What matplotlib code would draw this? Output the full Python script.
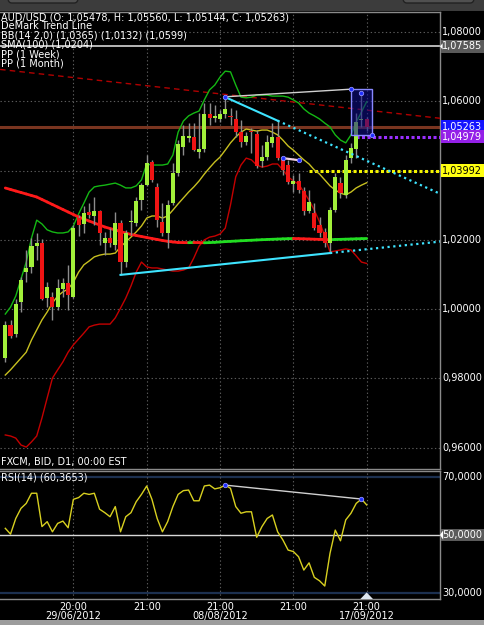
import matplotlib
matplotlib.use('Agg')
import matplotlib.pyplot as plt
from matplotlib.patches import Rectangle, FancyBboxPatch, Polygon
from matplotlib.collections import LineCollection
import numpy as np

# ---------------- data (AUD/USD daily, FXCM) ----------------
opens = [0.9859, 0.9954, 0.9928, 1.0021, 1.0107, 1.0122, 1.0182, 1.0191, 1.0032, 1.0035,
         1.0006, 1.0058, 1.0076, 1.0035, 1.0263, 1.0246, 1.0281, 1.0269, 1.0283, 1.0191,
         1.0205, 1.0185, 1.0249, 1.0136, 1.0252, 1.0249, 1.0315, 1.0358, 1.0425, 1.0353,
         1.0252, 1.0220, 1.0307, 1.0393, 1.0468, 1.0494, 1.0497, 1.0454, 1.0462, 1.0563,
         1.0552, 1.0549, 1.0563, 1.0558, 1.0549, 1.0511, 1.0483, 1.0514, 1.0506, 1.0428,
         1.0439, 1.0480, 1.0497, 1.0431, 1.0416, 1.0361, 1.0370, 1.0341, 1.0283, 1.0278,
         1.0243, 1.0223, 1.0191, 1.0286, 1.0364, 1.0330, 1.0436, 1.0462, 1.0546, 1.05478]
highs = [0.9966, 0.9969, 1.0029, 1.0093, 1.0171, 1.0206, 1.0220, 1.0203, 1.0079, 1.0050,
         1.0087, 1.0090, 1.0128, 1.0243, 1.0272, 1.0298, 1.0307, 1.0324, 1.0286, 1.0223,
         1.0234, 1.0280, 1.0257, 1.0229, 1.0286, 1.0324, 1.0364, 1.0445, 1.0431, 1.0364,
         1.0307, 1.0315, 1.0422, 1.0488, 1.0532, 1.0537, 1.0537, 1.0566, 1.0595, 1.0595,
         1.0589, 1.0575, 1.0612, 1.0580, 1.0575, 1.0546, 1.0511, 1.0523, 1.0517, 1.0474,
         1.0503, 1.0537, 1.0544, 1.0439, 1.0431, 1.0387, 1.0393, 1.0353, 1.0344, 1.0307,
         1.0266, 1.0234, 1.0295, 1.0393, 1.0381, 1.0445, 1.0480, 1.0566, 1.0624, 1.05560]
lows = [0.9848, 0.9917, 0.9920, 0.9992, 1.0079, 1.0105, 1.0142, 1.0027, 1.0006, 0.9969,
        0.9998, 1.0035, 0.9998, 1.0032, 1.0211, 1.0220, 1.0263, 1.0243, 1.0185, 1.0156,
        1.0180, 1.0171, 1.0099, 1.0122, 1.0214, 1.0240, 1.0286, 1.0356, 1.0367, 1.0237,
        1.0211, 1.0177, 1.0301, 1.0384, 1.0445, 1.0483, 1.0457, 1.0436, 1.0454, 1.0532,
        1.0540, 1.0540, 1.0552, 1.0532, 1.0497, 1.0468, 1.0474, 1.0451, 1.0408, 1.0410,
        1.0431, 1.0468, 1.0431, 1.0387, 1.0361, 1.0338, 1.0335, 1.0272, 1.0278, 1.0229,
        1.0208, 1.0180, 1.0162, 1.0280, 1.0321, 1.0321, 1.0422, 1.0436, 1.0526, 1.05144]
closes = [0.9954, 0.9923, 1.0015, 1.0084, 1.0119, 1.0182, 1.0191, 1.0029, 1.0064, 1.0006,
          1.0061, 1.0076, 1.0041, 1.0234, 1.0243, 1.0278, 1.0272, 1.0283, 1.0220, 1.0205,
          1.0191, 1.0249, 1.0136, 1.0220, 1.0255, 1.0312, 1.0358, 1.0422, 1.0373, 1.0257,
          1.0220, 1.0301, 1.0393, 1.0477, 1.0500, 1.0500, 1.0459, 1.0462, 1.0563, 1.0552,
          1.0558, 1.0563, 1.0578, 1.0555, 1.0511, 1.0483, 1.0500, 1.0511, 1.0413, 1.0439,
          1.0483, 1.0497, 1.0436, 1.0402, 1.0367, 1.0370, 1.0344, 1.0283, 1.0309, 1.0234,
          1.0220, 1.0191, 1.0286, 1.0381, 1.0335, 1.0431, 1.0465, 1.0540, 1.0549, 1.05263]

bb_upper = [0.9986, 1.0006, 1.0038, 1.0087, 1.0136, 1.0205, 1.0257, 1.0246, 1.0229, 1.0223,
            1.0220, 1.0220, 1.0223, 1.0240, 1.0275, 1.0306, 1.0338, 1.0353, 1.0356, 1.0358,
            1.0361, 1.0364, 1.0358, 1.0350, 1.0350, 1.0356, 1.0373, 1.0419, 1.0416, 1.0416,
            1.0416, 1.0419, 1.0445, 1.0511, 1.0543, 1.0558, 1.0566, 1.0572, 1.0604, 1.0633,
            1.0647, 1.0670, 1.0687, 1.0685, 1.0647, 1.0612, 1.0610, 1.0612, 1.0618, 1.0618,
            1.0618, 1.0615, 1.0615, 1.0615, 1.0612, 1.0604, 1.0595, 1.0578, 1.0566, 1.0558,
            1.0549, 1.0537, 1.0526, 1.0503, 1.0488, 1.0480, 1.0503, 1.0540, 1.0569, 1.0599]
bb_middle = [0.9810, 0.9825, 0.9842, 0.9859, 0.9876, 0.9911, 0.9940, 0.9969, 0.9992, 1.0018,
             1.0038, 1.0050, 1.0058, 1.0078, 1.0107, 1.0128, 1.0139, 1.0151, 1.0156, 1.0159,
             1.0159, 1.0162, 1.0180, 1.0194, 1.0208, 1.0223, 1.0240, 1.0263, 1.0269, 1.0269,
             1.0263, 1.0269, 1.0286, 1.0304, 1.0321, 1.0338, 1.0353, 1.0370, 1.0390, 1.0408,
             1.0425, 1.0439, 1.0459, 1.0480, 1.0497, 1.0511, 1.0520, 1.0517, 1.0514, 1.0517,
             1.0517, 1.0511, 1.0503, 1.0488, 1.0471, 1.0459, 1.0445, 1.0431, 1.0419, 1.0402,
             1.0390, 1.0373, 1.0356, 1.0344, 1.0335, 1.0330, 1.0338, 1.0350, 1.0358, 1.0365]
bb_lower = [0.9637, 0.9634, 0.9628, 0.9608, 0.9602, 0.9617, 0.9634, 0.9686, 0.9744, 0.9801,
            0.9825, 0.9848, 0.9876, 0.9897, 0.9914, 0.9931, 0.9949, 0.9954, 0.9957, 0.9957,
            0.9957, 0.9975, 1.0003, 1.0032, 1.0067, 1.0107, 1.0136, 1.0122, 1.0119, 1.0119,
            1.0116, 1.0113, 1.0110, 1.0110, 1.0113, 1.0119, 1.0148, 1.0182, 1.0200, 1.0208,
            1.0211, 1.0217, 1.0234, 1.0301, 1.0382, 1.0416, 1.0436, 1.0431, 1.0416, 1.0410,
            1.0413, 1.0419, 1.0419, 1.0402, 1.0382, 1.0370, 1.0361, 1.0338, 1.0315, 1.0286,
            1.0252, 1.0211, 1.0165, 1.0168, 1.0171, 1.0174, 1.0171, 1.0154, 1.0136, 1.0132]
sma100 = [1.03498, 1.03455, 1.03411, 1.03368, 1.03325, 1.03281, 1.03238, 1.03166, 1.03094, 1.03021,
          1.02949, 1.02877, 1.02805, 1.02733, 1.02661, 1.02603, 1.02545, 1.02488, 1.02430, 1.02372,
          1.02329, 1.02286, 1.02243, 1.02199, 1.02156, 1.02127, 1.02098, 1.02069, 1.02040, 1.02012,
          1.01983, 1.01960, 1.01940, 1.01925, 1.01922, 1.01920, 1.01925, 1.01921, 1.01917, 1.01922,
          1.01930, 1.01940, 1.01950, 1.01958, 1.01966, 1.01975, 1.01983, 1.01990, 1.01998, 1.02005,
          1.02012, 1.02018, 1.02024, 1.02030, 1.02035, 1.02040, 1.02036, 1.02031, 1.02026, 1.02020,
          1.02015, 1.02010, 1.02006, 1.02012, 1.02016, 1.02021, 1.02026, 1.02031, 1.02036, 1.02040]
rsi14 = [52.3, 50.3, 55.7, 59.2, 60.9, 64.4, 64.4, 52.9, 54.6, 51.1,
         54.0, 54.8, 52.5, 62.3, 62.9, 64.4, 64.0, 64.4, 58.9, 57.7,
         56.3, 59.8, 51.1, 56.3, 57.7, 61.5, 64.0, 66.9, 62.3, 55.7,
         51.1, 54.6, 59.8, 64.0, 65.3, 65.5, 61.8, 61.8, 66.9, 67.2,
         65.9, 66.3, 67.2, 66.1, 59.8, 57.5, 58.0, 58.0, 49.2, 52.9,
         55.7, 56.9, 51.1, 48.3, 44.8, 44.3, 42.5, 37.9, 40.4, 35.4,
         34.2, 32.4, 43.7, 51.7, 48.0, 55.2, 57.5, 60.9, 62.4, 60.3653]

# tick labels / levels
x_tick_bars = [13, 27, 41, 55, 69]
x_tick_labels = ["20:00\n29/06/2012", "21:00", "21:00\n08/08/2012", "21:00", "21:00\n17/09/2012"]
price_ticks = [0.96, 0.98, 1.00, 1.02, 1.04, 1.06, 1.08]
rsi_ticks = [30, 50, 70]
level_white = 1.07585
last_close = 1.05263
pp_week = 1.04979
pp_month = 1.03992
pp_week_start = 67
pp_month_start = 58
# trend lines (bar index, price)
red_trend = ([-1.0, 83.0], [1.0692, 1.0551])
upper_demark = ([42, 52], [1.0612, 1.0544])
lower_demark = ([22, 62], [1.0099, 1.0162])
top_line = ([42, 66], [1.0613, 1.0635])
small_line = ([53, 56], [1.0436, 1.0430])
box = (66, 70, 1.0503, 1.0635)   # x0, x1, y0, y1
rsi_line = ([42, 68], [67.2, 62.4])
header = ["AUD/USD (O: 1,05478, H: 1,05560, L: 1,05144, C: 1,05263)",
          "DeMark Trend Line",
          "BB(14 2,0) (1,0365) (1,0132) (1,0599)",
          "SMA(100) (1,0204)",
          "PP (1 Week)",
          "PP (1 Month)"]

# ---------------- figure ----------------
W, H = 484, 625
fig = plt.figure(figsize=(W / 100, H / 100), dpi=100, facecolor='black')
FS = 7.0
TXT = dict(color='white', fontsize=FS, family='DejaVu Sans')

ax = fig.add_axes([0, 1 - 469 / H, 440 / W, (469 - 12) / H])
rx = fig.add_axes([0, 1 - 599 / H, 440 / W, 128 / H])
for a in (ax, rx):
    a.set_facecolor('black')
    a.set_xlim(-1.01, 83.0)
    for s in a.spines.values():
        s.set_color('#8a8a8a')
        s.set_linewidth(1)
    a.spines['left'].set_visible(False)
    a.tick_params(length=0, labelbottom=False, labelleft=False)
    a.set_xticks(x_tick_bars)
    a.grid(axis='x', color='#5c5c5c', linestyle=(0, (1.2, 2.2)), linewidth=0.8)
ax.set_ylim(0.95388, 1.08577)
ax.set_yticks(price_ticks)
ax.grid(axis='y', color='#5c5c5c', linestyle=(0, (1.2, 2.2)), linewidth=0.8)
rx.set_ylim(27.93, 72.07)
rx.set_yticks([])

n = len(closes)
idx = np.arange(n)
o = np.array(opens); h = np.array(highs); l = np.array(lows); c = np.array(closes)

# horizontal level lines
ax.axhline(level_white, color='#e8e8e8', lw=1.1, zorder=2)
ax.axhline(last_close, color='#7a3520', lw=2.2, zorder=2)
ax.plot([pp_week_start, 83], [pp_week, pp_week], color='#9a30ff', lw=2.2,
        linestyle=(0, (1, 0.8)), zorder=3, solid_capstyle='butt')
ax.plot([pp_month_start, 83], [pp_month, pp_month], color='#f4f400', lw=2.2,
        linestyle=(0, (1, 0.8)), zorder=3)

# red dashed trend line
ax.plot(red_trend[0], red_trend[1], color='#b00000', lw=1, linestyle=(0, (4, 3)), zorder=3)

# Bollinger bands
ax.plot(idx, bb_upper, color='#14b814', lw=1, zorder=3)
ax.plot(idx, bb_middle, color='#c8c020', lw=1, zorder=3)
ax.plot(idx, bb_lower, color='#c40000', lw=1, zorder=3)

# SMA 100 coloured by direction
sma = np.array(sma100)
segs = [[(i, sma[i]), (i + 1, sma[i + 1])] for i in range(n - 1)]
cols = ['#22dd22' if sma[i + 1] >= sma[i] else '#ff1a1a' for i in range(n - 1)]
ax.add_collection(LineCollection(segs, colors=cols, linewidths=2, zorder=3, capstyle='round'))

# candles
ax.vlines(idx, l, h, color='#8c8c8c', lw=1, zorder=4)
up = c >= o
body = np.maximum(np.abs(c - o), 0.00018)
ax.bar(idx[up], body[up], bottom=o[up], width=0.78, color='#a2f03a', linewidth=0, zorder=5)
ax.bar(idx[~up], body[~up], bottom=c[~up], width=0.78, color='#f01414', linewidth=0, zorder=5)

# DeMark trend lines
cy = '#3ee4ff'
def extend(pts, x_end):
    (x0, x1), (y0, y1) = pts
    s = (y1 - y0) / (x1 - x0)
    return [x1, x_end], [y1, y1 + s * (x_end - x1)]
ax.plot(upper_demark[0], upper_demark[1], color=cy, lw=1.5, zorder=6)
ex, ey = extend(upper_demark, 83)
ax.plot(ex, ey, color=cy, lw=1.6, linestyle=(0, (1, 1.6)), zorder=6)
ax.plot(lower_demark[0], lower_demark[1], color=cy, lw=1.5, zorder=6)
ex, ey = extend(lower_demark, 83)
ax.plot(ex, ey, color=cy, lw=1.6, linestyle=(0, (1, 1.6)), zorder=6)

ax.plot(top_line[0], top_line[1], color='#d0d0d0', lw=1, zorder=6)
ax.plot(small_line[0], small_line[1], color='#f0d0e0', lw=1.6, zorder=6)

# blue rectangle
bx0, bx1, by0, by1 = box
ax.add_patch(Rectangle((bx0, by0), bx1 - bx0, by1 - by0, facecolor='#101090', alpha=0.55,
                       edgecolor='none', zorder=7))
ax.add_patch(Rectangle((bx0, by0), bx1 - bx0, by1 - by0, facecolor='none',
                       edgecolor='#8888ff', lw=1, zorder=7))
dots_x = [upper_demark[0][0], bx0, 68, bx1, small_line[0][0], small_line[0][1]]
dots_y = [upper_demark[1][0], by1, highs[68], by0, small_line[1][0], small_line[1][1]]
ax.scatter(dots_x, dots_y, s=10, color='#2030ff', edgecolors='#9090ff', linewidths=0.6, zorder=8)

# ---------------- RSI panel ----------------
rx.axhline(70, color='#1c3050', lw=1.6, zorder=1)
rx.axhline(30, color='#1c3050', lw=1.6, zorder=1)
rx.axhline(50, color='#d8d8d8', lw=1, zorder=2)
rx.plot(idx, rsi14, color='#d8d020', lw=1, zorder=3)
rx.plot(rsi_line[0], rsi_line[1], color='#d0d0d0', lw=1, zorder=4)
rx.scatter(rsi_line[0], rsi_line[1], s=10, color='#2030ff', edgecolors='#9090ff', linewidths=0.6, zorder=5)
rx.add_patch(Polygon([[n - 1 - 1.2, 27.93], [n - 1 + 1.2, 27.93], [n - 1, 30.2]], closed=True,
                     facecolor='#dde6f0', edgecolor='none', zorder=6, clip_on=False))

# ---------------- texts ----------------
ytr = ax.get_yaxis_transform()
for p in price_ticks:
    ax.text(1.005, p, f"{p:.5f}".replace('.', ','), transform=ytr, va='center', ha='left', **TXT)

def tag(axis, y, s, fc, tc='white'):
    axis.text(1.005, y, s, transform=axis.get_yaxis_transform(), va='center', ha='left',
              color=tc, fontsize=FS, zorder=10,
              bbox=dict(boxstyle='square,pad=0.15', fc=fc, ec='none'))

tag(ax, level_white, "1,07585", '#5a5a5a')
tag(ax, last_close, "1,05263", '#1414ff')
tag(ax, pp_week, "1,04979", '#9420e8')
tag(ax, pp_month, "1,03992", '#ffff10', 'black')
ax.add_patch(Polygon([[83.0, level_white], [83.5, level_white + 0.0009], [83.5, level_white - 0.0009]],
                     closed=True, facecolor='white', edgecolor='none', clip_on=False, zorder=11))

rtr = rx.get_yaxis_transform()
for v in rsi_ticks:
    if v == 50:
        tag(rx, v, "50,0000", '#5a5a5a')
    else:
        rx.text(1.005, v, f"{v:.4f}".replace('.', ','), transform=rtr, va='center', ha='left', **TXT)
rx.add_patch(Polygon([[83.0, 50], [83.6, 51.6], [83.6, 48.4]], closed=True, facecolor='white',
                     edgecolor='none', clip_on=False, zorder=11))

for i, s in enumerate(header):
    fig.text(1 / W, 1 - (12.0 + 9.3 * i) / H, s, va='top', ha='left', **TXT)
fig.text(1 / W, 1 - 457.5 / H, "FXCM, BID, D1, 00:00 EST", va='top', ha='left', **TXT)
fig.text(1 / W, 1 - 472.0 / H, "RSI(14) (60,3653)", va='top', ha='left', **TXT)

xtr = rx.get_xaxis_transform()
for xb, s in zip(x_tick_bars, x_tick_labels):
    rx.text(xb, -0.02, s, transform=xtr, ha='center', va='top', linespacing=0.95, **TXT)

# window chrome
fig.patches.append(Rectangle((0, 1 - 11 / H), 1, 11 / H, transform=fig.transFigure,
                             facecolor='#3c3c3c', edgecolor='none', zorder=0))
for x0, x1 in [(8, 78), (403, 474)]:
    fig.patches.append(FancyBboxPatch((x0 / W, 1 - 3 / H), (x1 - x0) / W, 8 / H,
                                      boxstyle='round,pad=0,rounding_size=0.008',
                                      transform=fig.transFigure, facecolor='#505050',
                                      edgecolor='#222222', lw=1, zorder=1))
fig.patches.append(Rectangle((0, 0), 1, 5 / H, transform=fig.transFigure,
                             facecolor='#9c9c9c', edgecolor='none', zorder=0))

fig.savefig('out.png', dpi=100, facecolor='black')
